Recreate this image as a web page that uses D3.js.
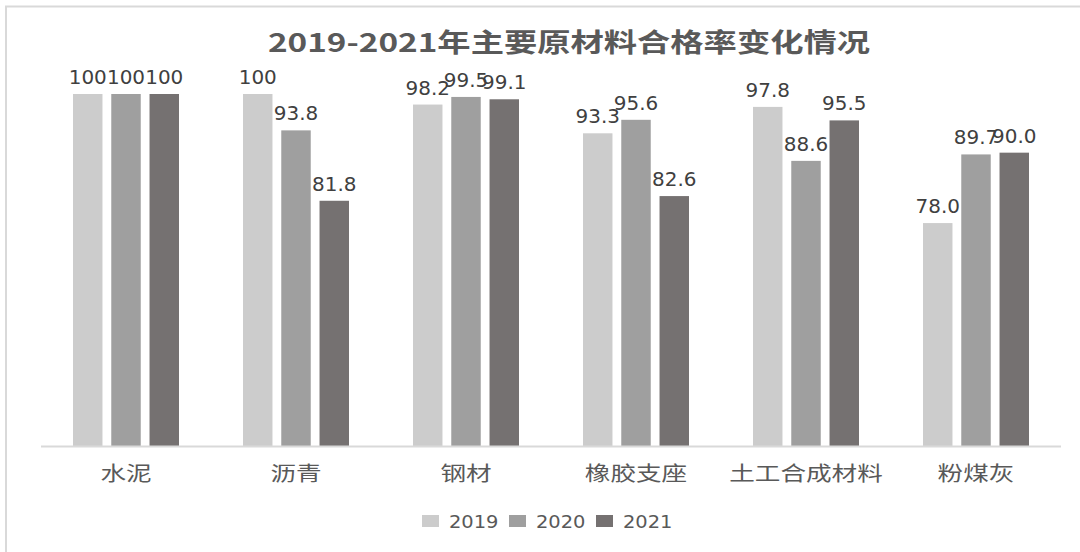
<!DOCTYPE html>
<html>
<head>
<meta charset="utf-8">
<script src="https://cdn.jsdelivr.net/npm/d3@7"></script>
<style>
  body { margin: 0; background: #fff; }
  svg { display: block; }
</style>
</head>
<body>
<svg width="1080" height="552"></svg>
<script>
// chart data
const categories = ['水泥', '沥青', '钢材', '橡胶支座', '土工合成材料', '粉煤灰']
const years = ['2019', '2020', '2021']
const values2019 = [100, 100, 98.2, 93.3, 97.8, 78.0]
const values2020 = [100, 93.8, 99.5, 95.6, 88.6, 89.7]
const values2021 = [100, 81.8, 99.1, 82.6, 95.5, 90.0]
const labels2019 = ['100', '100', '98.2', '93.3', '97.8', '78.0']
const labels2020 = ['100', '93.8', '99.5', '95.6', '88.6', '89.7']
const labels2021 = ['100', '81.8', '99.1', '82.6', '95.5', '90.0']
const title = '2019-2021年主要原材料合格率变化情况'

const series = [
  { year: years[0], values: values2019, labels: labels2019, color: '#cccccc' },
  { year: years[1], values: values2020, labels: labels2020, color: '#9f9f9f' },
  { year: years[2], values: values2021, labels: labels2021, color: '#757171' },
]

const svg = d3.select('svg')
const CJK = '"Noto Sans CJK SC", "Noto Sans", sans-serif'
const NUM = '"DejaVu Sans", sans-serif'

// stretch text a bit wider, the source picture is squeezed horizontally
const stretch = (sel, k) => {
  sel.each(function () {
    const w = this.getComputedTextLength()
    d3.select(this).attr('textLength', w * k).attr('lengthAdjust', 'spacingAndGlyphs')
  })
}

// outer frame
svg.append('rect')
  .attr('x', 6).attr('y', 6.5)
  .attr('width', 1100).attr('height', 600)
  .attr('fill', 'none')
  .attr('stroke', '#d9d9d9')
  .attr('stroke-width', 2)

// scales
const x0 = d3.scaleBand().domain(categories).range([41, 1061]).padding(0)
const x1 = d3.scaleBand().domain(years).range([32, 138]).paddingInner(0.23)
const y = d3.scaleLinear().domain([40, 100]).range([446, 94])

// title
svg.append('text')
  .attr('x', 569).attr('y', 52)
  .attr('text-anchor', 'middle')
  .style('font-family', CJK)
  .style('font-size', '26px')
  .style('font-weight', 'bold')
  .attr('fill', '#595959')
  .text(title)
  .call(stretch, 1.28)

// bars
const groups = svg.append('g')
  .selectAll('g')
  .data(series)
  .join('g')
  .attr('fill', d => d.color)

groups.selectAll('rect')
  .data(s => s.values.map((v, i) => ({ cat: categories[i], year: s.year, v })))
  .join('rect')
  .attr('x', d => x0(d.cat) + x1(d.year))
  .attr('y', d => y(d.v))
  .attr('width', x1.bandwidth())
  .attr('height', d => y.range()[0] - y(d.v))

// value labels
svg.append('g')
  .selectAll('g')
  .data(series)
  .join('g')
  .selectAll('text')
  .data(s => s.values.map((v, i) => ({ cat: categories[i], year: s.year, v, label: s.labels[i] })))
  .join('text')
  .attr('x', d => x0(d.cat) + x1(d.year) + x1.bandwidth() / 2)
  .attr('y', d => y(d.v) - 10)
  .attr('text-anchor', 'middle')
  .style('font-family', NUM)
  .style('font-size', '19px')
  .attr('fill', '#404040')
  .text(d => d.label)
  .call(stretch, 1.05)

// x axis line + category labels
svg.append('line')
  .attr('x1', 41).attr('x2', 1061)
  .attr('y1', 446.5).attr('y2', 446.5)
  .attr('stroke', '#d9d9d9')
  .attr('stroke-width', 2)

svg.append('g')
  .selectAll('text')
  .data(categories)
  .join('text')
  .attr('x', d => x0(d) + x0.bandwidth() / 2)
  .attr('y', 481)
  .attr('text-anchor', 'middle')
  .style('font-family', CJK)
  .style('font-size', '20px')
  .attr('fill', '#595959')
  .text(d => d)
  .call(stretch, 1.28)

// legend
const legend = svg.append('g')
  .attr('transform', 'translate(422,0)')
  .selectAll('g')
  .data(series)
  .join('g')
  .attr('transform', (d, i) => `translate(${i * 87},0)`)

legend.append('rect')
  .attr('x', 0).attr('y', 515)
  .attr('width', 17).attr('height', 12)
  .attr('fill', d => d.color)

legend.append('text')
  .attr('x', 27).attr('y', 528)
  .style('font-family', NUM)
  .style('font-size', '18px')
  .attr('fill', '#595959')
  .text(d => d.year)
  .call(stretch, 1.08)
</script>
</body>
</html>
